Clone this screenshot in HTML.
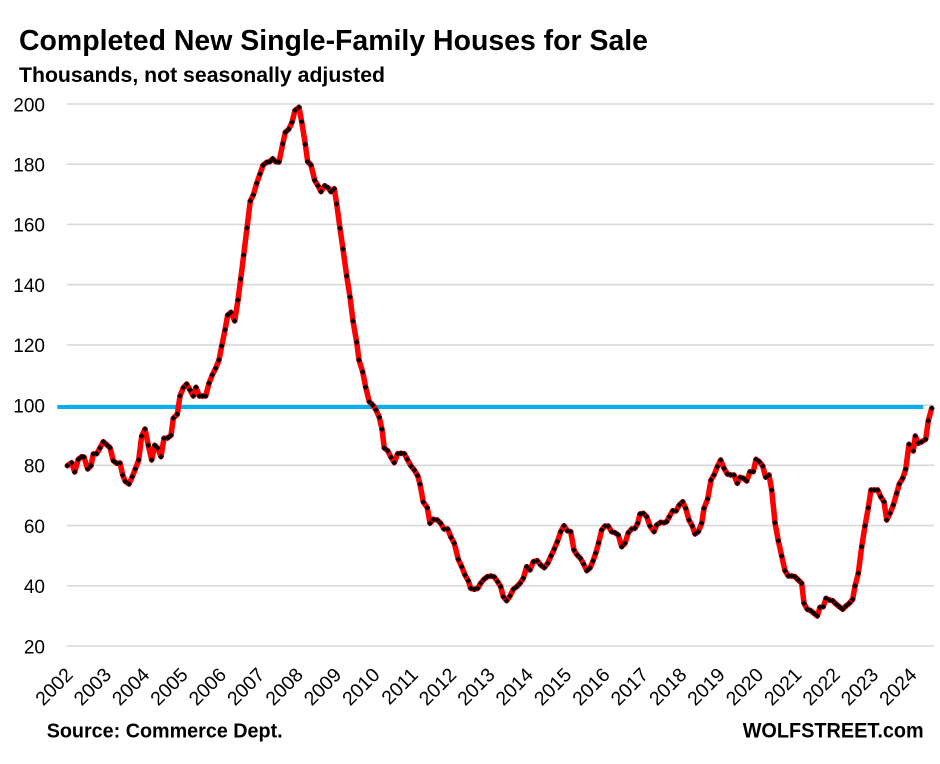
<!DOCTYPE html>
<html>
<head>
<meta charset="utf-8">
<style>
html,body{margin:0;padding:0;background:#fff;}
svg{display:block;}
text{font-family:"Liberation Sans",sans-serif;fill:#000;}
</style>
</head>
<body>
<svg width="940" height="764" viewBox="0 0 940 764" xmlns="http://www.w3.org/2000/svg">
<defs>
<marker id="dm" viewBox="-4 -4 8 8" markerUnits="userSpaceOnUse" markerWidth="8" markerHeight="8" refX="0" refY="0">
<path d="M0,-2.9 L2.9,0 L0,2.9 L-2.9,0 Z" fill="#000"/>
</marker>
</defs>
<rect width="940" height="764" fill="#fff"/>
<text x="19" y="50" font-size="29" font-weight="bold" textLength="629" lengthAdjust="spacingAndGlyphs">Completed New Single-Family Houses for Sale</text>
<text x="19" y="82" font-size="21" font-weight="bold" textLength="366" lengthAdjust="spacingAndGlyphs">Thousands, not seasonally adjusted</text>

<g stroke="#d9d9d9" stroke-width="1.6">
<line x1="67" x2="934" y1="104" y2="104"/>
<line x1="67" x2="934" y1="164.2" y2="164.2"/>
<line x1="67" x2="934" y1="224.4" y2="224.4"/>
<line x1="67" x2="934" y1="284.7" y2="284.7"/>
<line x1="67" x2="934" y1="344.9" y2="344.9"/>
<line x1="67" x2="934" y1="405.1" y2="405.1"/>
<line x1="67" x2="934" y1="465.3" y2="465.3"/>
<line x1="67" x2="934" y1="525.6" y2="525.6"/>
<line x1="67" x2="934" y1="585.8" y2="585.8"/>
<line x1="67" x2="934" y1="646" y2="646"/>
</g>

<g font-size="19" text-anchor="end">
<text x="45" y="111.3">200</text>
<text x="45" y="171.5">180</text>
<text x="45" y="231.7">160</text>
<text x="45" y="292">140</text>
<text x="45" y="352.2">120</text>
<text x="45" y="412.4">100</text>
<text x="45" y="472.6">80</text>
<text x="45" y="532.9">60</text>
<text x="45" y="593.1">40</text>
<text x="45" y="653.3">20</text>
</g>

<g font-size="19.5" text-anchor="end">
<text transform="translate(74,676) rotate(-45)">2002</text>
<text transform="translate(112.4,676) rotate(-45)">2003</text>
<text transform="translate(150.7,676) rotate(-45)">2004</text>
<text transform="translate(189.1,676) rotate(-45)">2005</text>
<text transform="translate(227.4,676) rotate(-45)">2006</text>
<text transform="translate(265.8,676) rotate(-45)">2007</text>
<text transform="translate(304.2,676) rotate(-45)">2008</text>
<text transform="translate(342.5,676) rotate(-45)">2009</text>
<text transform="translate(380.9,676) rotate(-45)">2010</text>
<text transform="translate(419.2,676) rotate(-45)">2011</text>
<text transform="translate(457.6,676) rotate(-45)">2012</text>
<text transform="translate(496,676) rotate(-45)">2013</text>
<text transform="translate(534.3,676) rotate(-45)">2014</text>
<text transform="translate(572.7,676) rotate(-45)">2015</text>
<text transform="translate(611,676) rotate(-45)">2016</text>
<text transform="translate(649.4,676) rotate(-45)">2017</text>
<text transform="translate(687.8,676) rotate(-45)">2018</text>
<text transform="translate(726.1,676) rotate(-45)">2019</text>
<text transform="translate(764.5,676) rotate(-45)">2020</text>
<text transform="translate(802.8,676) rotate(-45)">2021</text>
<text transform="translate(841.2,676) rotate(-45)">2022</text>
<text transform="translate(879.6,676) rotate(-45)">2023</text>
<text transform="translate(917.9,676) rotate(-45)">2024</text>
</g>

<line x1="57.3" x2="923.3" y1="407" y2="407" stroke="#00b0f0" stroke-width="4"/>

<polyline fill="none" stroke="#ff0000" stroke-width="5.5" stroke-linejoin="round" stroke-linecap="round"
marker-start="url(#dm)" marker-mid="url(#dm)" marker-end="url(#dm)"
points="67.3,465.7 71.7,462.7 74.7,472 78.3,459.3 81.7,456.7 84,457 87.7,469 91,465.7 93.3,454 96.7,453.7 100,448 103.3,441.7 106.7,444.7 110,447.7 113.3,460.7 116.7,463.3 120,463 122.7,475 125.3,481.3 129,484 132.3,476.7 135.3,469 138.7,460 141.7,436 145,429 148.3,445.3 151.7,460 154.7,445.3 157.7,448 161,456.7 164,438.3 167.7,438 171,435.3 173.3,418.3 177.3,414.3 180,396 183.3,387.7 186.7,384 190,390 193.3,396 196,387.3 199.3,396 202.7,396 205.7,396 209,383.3 212.3,375 215.7,368.3 219,360 221.7,346 225,330 227.7,315 231,312.3 234.7,321 238,300 240.7,279 243.7,255 247,228 250.3,201 253.3,195 256.7,183.3 260,174 263,165.3 266.7,162.3 269.7,161.7 272.7,158.7 275.7,161.7 279,162 282.7,144 285.3,132.3 288.7,129.3 292,122.3 295,110.3 299,107.3 301.7,121.7 305.3,144.3 307.7,161.7 311,165 314.7,180.3 318,185.7 321,191.7 324.7,185.7 328,187.7 331,191.7 334.3,188.7 336.7,204 340,228.3 343,249 346.7,276 350,297 353,321 356.7,342.3 359,360 362.7,372 365.7,387.3 369.3,401.7 372.7,405 376,410 379.3,417.3 382,429.3 384.3,448 387.7,450.7 391,457.3 394.3,462.7 397.7,453.7 401,453.3 404.3,453.7 407.3,459.3 411,466 414.3,470 417.7,475.7 420,484.3 423.3,502 427.3,507.7 430,523.3 433.3,519.3 437.3,520 440.7,523.3 444,529 447.7,529 451,537.3 454.3,543.3 458.3,559.3 461.7,566.7 465,575 468.3,580.7 470.7,588.3 474.3,589.3 477.7,588.3 480.7,583.3 484,579.3 487.3,576.7 491,576 494.3,577 497.7,581.7 500.7,586.7 503.3,596.7 506.7,600.7 510,596 513.3,589.3 516.7,586.7 520,583.3 523.3,578.3 526.7,566.7 530,570 533.3,561.7 537.3,560.7 540.7,565 544.3,567.7 547.7,563.3 551,556 554.3,549 557.3,541.7 560.7,531.7 564,525.7 567.3,530.7 570.7,531.7 574,550 577.2,555 580.4,558.3 583.6,564 586.8,570.7 590,568 593,561 595.8,553 598.6,543 601.7,530 605,526 608.3,526 611.7,531.7 615,532.7 618.3,535 621.7,546.7 625,543.3 628.3,532.7 631.7,529 635,528.3 637.7,523.3 640,514 643.3,513.3 646.7,516.7 650,526 654,531.7 656.7,525 660.7,522.3 664,522.7 666.7,521.7 669.3,516.7 672.7,510.7 676,511 679.3,505 682.7,501.7 685.7,508.3 689,520 692.3,526 695,534 698.3,531.7 701.7,523.3 704,508.3 707.7,499 711,480 714,475 717.3,466.7 720.7,460 724,468.3 727.3,474 730.7,475 734,475 737.3,483.3 740,477.3 743.3,478.3 746.7,481 750,471.7 753.3,471.7 756,459.3 759.3,461.7 762.7,466 765.7,477.3 769,475 771.7,490 775,522.7 778.3,540.7 781.7,556 785,570.7 788.3,576 791.7,576 795,576.7 798.3,580 801.7,583.3 804,603.3 807.3,609.3 810.7,610.7 814,613.3 817.3,616 820,607.3 823.3,606.7 826,598.3 829.3,600 832.7,600.7 836,604 839.3,606.7 842.7,609.3 846,606 849.3,603.3 852.7,599.3 855,586 858.3,573.3 861.7,546.7 865,526 868.3,507.7 871,490 874.3,490 877.7,490 880.7,496.7 884,501.7 886.7,520 890,513.3 893.3,505 896.7,493.3 899.3,484 902.7,478.3 905.7,469.3 909,444.3 913.3,451 915.3,436 918.3,443.3 921.7,441.7 925.7,439.3 928.3,420.7 931.7,408.3"/>

<text x="46.7" y="737.3" font-size="20" font-weight="bold" textLength="236" lengthAdjust="spacingAndGlyphs">Source: Commerce Dept.</text>
<text x="742.7" y="737.3" font-size="21" font-weight="bold" textLength="181" lengthAdjust="spacingAndGlyphs">WOLFSTREET.com</text>
</svg>
</body>
</html>
